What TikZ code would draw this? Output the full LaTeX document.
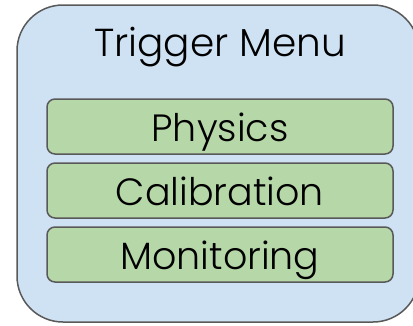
\documentclass[tikz,border=0pt]{standalone}
\usepackage{fontspec}
\setmainfont{Poppins Light}
\definecolor{menublue}{HTML}{CFE2F3}
\definecolor{menugreen}{HTML}{B6D7A8}
\definecolor{edgegray}{HTML}{595959}
\begin{document}
\begin{tikzpicture}[x=1pt,y=-1pt,
  outerbox/.style={draw=edgegray,fill=menublue,line width=1.5pt,rounded corners=46pt},
  entry/.style={draw=edgegray,fill=menugreen,line width=1.5pt,rounded corners=8pt,
    minimum width=346pt,minimum height=55pt,inner sep=0pt,
    text height=29pt,text depth=0pt,
    font=\fontsize{38}{42}\selectfont},
  title/.style={font=\fontsize{39}{42}\selectfont,inner sep=0pt,anchor=base}]
\useasboundingbox (0,0) rectangle (413,325);
% menu container, its right side runs past the page edge
\draw[outerbox] (17,5) rectangle (419,322);
\node[title] (menu) at (220,56) {Trigger Menu};
% the three trigger categories
\node[entry] (phys) at (220,126.5) {Physics};
\node[entry] (calib) at (220,190.5) {Calibration};
\node[entry] (mon) at (220,254.5) {Monitoring};
\end{tikzpicture}
\end{document}
